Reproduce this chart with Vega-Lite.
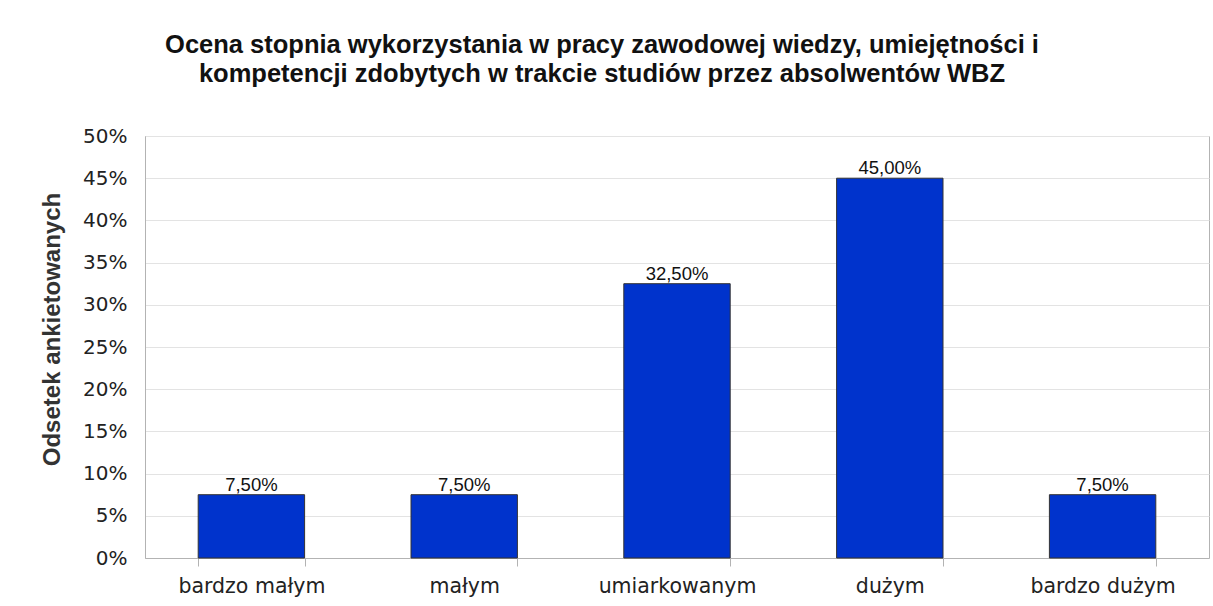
{
  "$schema": "https://vega.github.io/schema/vega-lite/v6.json",
  "width": 1064,
  "height": 422,
  "autosize": {"type": "none"},
  "padding": {"left": 145, "top": 136, "right": 4, "bottom": 48},
  "background": "white",
  "title": {
    "text": ["Ocena stopnia wykorzystania w pracy zawodowej wiedzy, umiejętności i", "kompetencji zdobytych w trakcie studiów przez absolwentów WBZ"],
    "font": "Liberation Sans",
    "fontSize": 25.5,
    "fontWeight": "bold",
    "color": "#111111",
    "lineHeight": 29,
    "anchor": "middle",
    "frame": "group",
    "dx": -75,
    "offset": 39
  },
  "data": {
    "values": [
      {"kategoria": "bardzo małym", "odsetek": 0.075},
      {"kategoria": "małym", "odsetek": 0.075},
      {"kategoria": "umiarkowanym", "odsetek": 0.325},
      {"kategoria": "dużym", "odsetek": 0.45},
      {"kategoria": "bardzo dużym", "odsetek": 0.075}
    ]
  },
  "encoding": {
    "x": {
      "field": "kategoria",
      "type": "nominal",
      "sort": null,
      "scale": {"paddingInner": 0.5, "paddingOuter": 0.25},
      "axis": {
        "title": null,
        "labelAngle": 0,
        "labelFont": "DejaVu Sans",
        "labelFontSize": 20.5,
        "labelColor": "#222222",
        "labelPadding": 10,
        "tickBand": "extent",
        "tickSize": 8,
        "tickColor": "#b3b3b3",
        "domainColor": "#b3b3b3",
        "grid": false
      }
    },
    "y": {
      "field": "odsetek",
      "type": "quantitative",
      "scale": {"domain": [0, 0.5], "nice": false},
      "axis": {
        "title": "Odsetek ankietowanych",
        "titleFont": "Liberation Sans",
        "titleFontSize": 24,
        "titleFontWeight": "bold",
        "titleColor": "#333333",
        "titleAngle": -90,
        "titleX": -93,
        "titleY": 193,
        "titleAlign": "center",
        "titleBaseline": "middle",
        "format": ".0%",
        "values": [0, 0.05, 0.1, 0.15, 0.2, 0.25, 0.3, 0.35, 0.4, 0.45, 0.5],
        "labelFont": "DejaVu Sans",
        "labelFontSize": 20,
        "labelColor": "#222222",
        "labelPadding": 18,
        "ticks": false,
        "domainColor": "#b3b3b3",
        "gridColor": "#e3e3e3"
      }
    }
  },
  "layer": [
    {
      "mark": {"type": "bar", "color": "#0033CC", "stroke": "#333333", "strokeWidth": 1}
    },
    {
      "mark": {"type": "text", "baseline": "alphabetic", "dy": -4, "font": "Liberation Sans", "fontSize": 18.5, "color": "#111111"},
      "encoding": {
        "text": {"field": "odsetek", "type": "quantitative", "format": ".2%"}
      }
    }
  ],
  "config": {
    "view": {"stroke": "#b3b3b3"},
    "locale": {
      "number": {"decimal": ",", "thousands": " ", "grouping": [3], "currency": ["", " zł"]}
    }
  }
}
